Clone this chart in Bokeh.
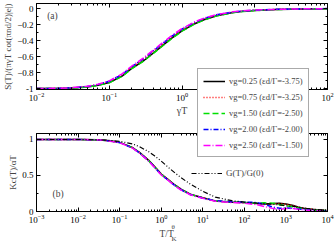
from bokeh.plotting import figure
from bokeh.layouts import column
from bokeh.models import (LogAxis, LinearAxis, FixedTicker, Legend, LegendItem,
                          Label, Range1d, CustomJSTickFormatter)
from bokeh.embed import file_html
from bokeh.resources import INLINE

FONT = "Liberation Serif"

# ---------------- data: panel (a) ----------------
gamma_T = [0.01, 0.02, 0.03, 0.05, 0.07, 0.1, 0.15, 0.2, 0.3, 0.5, 0.7, 1, 1.5, 2, 3, 5, 7, 10, 20, 50, 100]
s_vg025 = [-1.0, -1.0, -0.995, -0.98, -0.96, -0.925, -0.845, -0.755, -0.65, -0.49, -0.38, -0.28, -0.19, -0.14, -0.09, -0.05, -0.035, -0.025, -0.012, -0.005, -0.002]
s_vg075 = [-1.0, -0.999, -0.993, -0.976, -0.953, -0.915, -0.83, -0.74, -0.63, -0.47, -0.365, -0.265, -0.178, -0.13, -0.083, -0.046, -0.032, -0.022, -0.011, -0.004, -0.002]
s_vg150 = [-1.0, -1.0, -0.996, -0.981, -0.962, -0.928, -0.848, -0.758, -0.654, -0.494, -0.385, -0.284, -0.193, -0.143, -0.092, -0.052, -0.036, -0.026, -0.013, -0.005, -0.002]
s_vg200 = [-1.0, -0.999, -0.992, -0.974, -0.95, -0.91, -0.825, -0.733, -0.622, -0.462, -0.357, -0.258, -0.172, -0.125, -0.079, -0.044, -0.03, -0.021, -0.01, -0.004, -0.001]
s_vg250 = [-1.0, -0.998, -0.99, -0.971, -0.946, -0.905, -0.818, -0.725, -0.613, -0.452, -0.348, -0.25, -0.166, -0.12, -0.076, -0.042, -0.029, -0.02, -0.01, -0.004, -0.001]

# ---------------- data: panel (b) ----------------
T_TK = [0.001, 0.003, 0.01, 0.03, 0.05, 0.1, 0.2, 0.3, 0.5, 0.7, 1, 1.5, 2, 3, 5, 10, 20, 50, 100, 200,
        300, 500, 700, 1000, 1500, 2000, 3000, 5000, 10000]
k_vg025 = [1.0, 1.0, 1.0, 0.995, 0.985, 0.96, 0.89, 0.82, 0.71, 0.62, 0.52, 0.44, 0.38, 0.31, 0.24, 0.19, 0.145, 0.13, 0.125, 0.11,
           0.105, 0.11, 0.115, 0.105, 0.085, 0.06, 0.04, 0.025, 0.01]
k_vg075 = [1.0, 1.0, 1.0, 0.995, 0.985, 0.96, 0.89, 0.82, 0.71, 0.62, 0.52, 0.44, 0.38, 0.31, 0.24, 0.19, 0.145, 0.13, 0.122, 0.108,
           0.1, 0.105, 0.11, 0.1, 0.08, 0.06, 0.042, 0.026, 0.01]
k_vg150 = [1.0, 1.0, 1.0, 0.995, 0.984, 0.958, 0.887, 0.817, 0.706, 0.615, 0.515, 0.435, 0.375, 0.305, 0.237, 0.188, 0.148, 0.133, 0.125, 0.115,
           0.12, 0.115, 0.095, 0.08, 0.065, 0.05, 0.035, 0.022, 0.01]
k_vg200 = [1.0, 1.0, 1.0, 0.995, 0.984, 0.957, 0.885, 0.814, 0.703, 0.612, 0.512, 0.432, 0.372, 0.302, 0.235, 0.187, 0.15, 0.135, 0.13, 0.125,
           0.1, 0.06, 0.045, 0.05, 0.045, 0.035, 0.025, 0.015, 0.008]
k_vg250 = [1.0, 1.0, 1.0, 0.995, 0.983, 0.955, 0.882, 0.81, 0.698, 0.607, 0.507, 0.428, 0.368, 0.298, 0.232, 0.183, 0.143, 0.125, 0.115, 0.095,
           0.07, 0.04, 0.03, 0.04, 0.04, 0.03, 0.02, 0.012, 0.006]
g_ratio = [1.0, 1.0, 1.0, 0.995, 0.99, 0.975, 0.94, 0.9, 0.83, 0.77, 0.70, 0.61, 0.55, 0.47, 0.38, 0.28, 0.2, 0.15, 0.13, 0.115,
           0.108, 0.1, 0.092, 0.08, 0.07, 0.06, 0.045, 0.03, 0.015]

series_labels = ["vg=0.25 (εd/Γ=-3.75)", "vg=0.75 (εd/Γ=-3.25)", "vg=1.50 (εd/Γ=-2.50)",
                 "vg=2.00 (εd/Γ=-2.00)", "vg=2.50 (εd/Γ=-1.50)"]
g_label = "G(T)/G(0)"

top_y_ticks = [-1.0, -0.8, -0.6, -0.4, -0.2, 0.0]
top_y_minor = [-0.9, -0.7, -0.5, -0.3, -0.1]
bot_y_ticks = [0.0, 0.5, 1.0]
bot_y_minor = [0.25, 0.75]
top_x_ticks = [0.01, 0.1, 1, 10, 100]
bot_x_ticks = [0.001, 0.01, 0.1, 1, 10, 100, 1000, 10000]

styles = [
    dict(color="#000000", dash="solid"),
    dict(color="#ff0000", dash="1 2"),
    dict(color="#00e000", dash="6 3"),
    dict(color="#0000ff", dash="5 2 1 2"),
    dict(color="#ff00ff", dash="7 2 1 2"),
]


def log_minor(ticks):
    out = []
    for t in ticks[:-1]:
        out += [t * k for k in range(2, 10)]
    return out


def style_axis(ax, labels=True):
    ax.axis_line_color = "black"
    ax.major_tick_in = 4
    ax.major_tick_out = 0
    ax.minor_tick_in = 2
    ax.minor_tick_out = 0
    ax.major_tick_line_color = "black"
    ax.minor_tick_line_color = "black"
    ax.major_label_text_font = FONT
    ax.major_label_text_font_size = "9px" if labels else "1px"
    ax.major_label_text_color = "black"
    ax.major_label_standoff = 3 if labels else 0
    ax.axis_label_text_font = FONT
    ax.axis_label_text_font_size = "9px"
    ax.axis_label_text_font_style = "normal"
    ax.axis_label_standoff = 1
    if not labels:
        ax.formatter = CustomJSTickFormatter(code="return ''")


def bare(fig):
    fig.min_border_left = 0
    fig.min_border_right = 0
    fig.min_border_top = 0
    fig.min_border_bottom = 0
    fig.outline_line_color = None
    fig.background_fill_alpha = 0
    fig.border_fill_alpha = 0
    fig.grid.visible = False


W = 336
H1 = 118
H2 = 125
LEG_TOP, LEG_H = 68, 91
TITLE_TOP, TITLE_H = 221, 22
FRAME_SHIFT = 34   # overlay frames are aligned with the panels' frames (left border)

# ---------------- panel (a) ----------------
p1 = figure(width=W, height=H1, x_axis_type="log",
            x_range=Range1d(0.01, 100), y_range=Range1d(-1.0125, 0.0625),
            output_backend="svg", toolbar_location=None,
            min_border_left=32, min_border_right=9, min_border_top=3, min_border_bottom=29)
p1.grid.visible = False
p1.outline_line_color = "black"
p1.xaxis.ticker = FixedTicker(ticks=top_x_ticks, minor_ticks=log_minor(top_x_ticks))
p1.yaxis.ticker = FixedTicker(ticks=top_y_ticks, minor_ticks=top_y_minor)
p1.yaxis.major_label_overrides = {-1.0: "-1", 0.0: "0"}
p1.xaxis.axis_label = "γT"
p1.yaxis.axis_label = "S(T)/(πγT cot(πnd/2)|e|)"
style_axis(p1.xaxis[0])
style_axis(p1.yaxis[0])
p1.xaxis[0].axis_label_text_font_size = "10px"
ax_top = LogAxis(ticker=FixedTicker(ticks=top_x_ticks, minor_ticks=log_minor(top_x_ticks)))
ax_right = LinearAxis(ticker=FixedTicker(ticks=top_y_ticks, minor_ticks=top_y_minor))
style_axis(ax_top, labels=False)
style_axis(ax_right, labels=False)
p1.add_layout(ax_top, "above")
p1.add_layout(ax_right, "right")

for ys, st in zip([s_vg025, s_vg075, s_vg150, s_vg200, s_vg250], styles):
    p1.line(gamma_T, ys, line_color=st["color"], line_dash=st["dash"], line_width=1.5)

p1.add_layout(Label(x=0.014, y=-0.095, text="(a)", text_font=FONT, text_font_size="9.5px",
                    text_baseline="middle", text_align="left"))

# ---------------- panel (b) ----------------
p2 = figure(width=W, height=H2, x_axis_type="log",
            x_range=Range1d(0.001, 10000), y_range=Range1d(0, 1.083),
            output_backend="svg", toolbar_location=None,
            min_border_left=32, min_border_right=9, min_border_top=15, min_border_bottom=32)
p2.grid.visible = False
p2.outline_line_color = "black"
p2.xaxis.ticker = FixedTicker(ticks=bot_x_ticks, minor_ticks=log_minor(bot_x_ticks))
p2.yaxis.ticker = FixedTicker(ticks=bot_y_ticks, minor_ticks=bot_y_minor)
p2.yaxis.major_label_overrides = {0.0: "0", 1.0: "1"}
p2.yaxis.axis_label = "Kc(T)/αT"
style_axis(p2.xaxis[0])
style_axis(p2.yaxis[0])
bx_top = LogAxis(ticker=FixedTicker(ticks=bot_x_ticks, minor_ticks=log_minor(bot_x_ticks)))
bx_right = LinearAxis(ticker=FixedTicker(ticks=bot_y_ticks, minor_ticks=bot_y_minor))
style_axis(bx_top, labels=False)
style_axis(bx_right, labels=False)
p2.add_layout(bx_top, "above")
p2.add_layout(bx_right, "right")

for ys, st in zip([k_vg025, k_vg075, k_vg150, k_vg200, k_vg250], styles):
    p2.line(T_TK, ys, line_color=st["color"], line_dash=st["dash"], line_width=1.5)
rg = p2.line(T_TK, g_ratio, line_color="black", line_dash="5 2 1 2 1 2", line_width=1.2)

p2.add_layout(Label(x=0.00244, y=0.245, text="(b)", text_font=FONT, text_font_size="9.5px",
                    text_baseline="middle", text_align="left"))
legend_g = Legend(items=[LegendItem(label=g_label, renderers=[rg])],
                  location=(155, 32), label_text_font=FONT, label_text_font_size="9px",
                  glyph_width=31, glyph_height=12, label_height=12, padding=0, margin=0,
                  label_standoff=4, border_line_alpha=0, background_fill_alpha=0)
p2.add_layout(legend_g)

# ---------------- legend box spanning both panels (transparent overlay) ----------------
p_leg = figure(width=W, height=LEG_H, x_axis_type="log",
               x_range=Range1d(0.001, 10000), y_range=Range1d(10, 11),
               x_axis_location=None, y_axis_location=None,
               output_backend="svg", toolbar_location=None)
bare(p_leg)
p_leg.margin = (LEG_TOP - (H1 + H2), 0, 0, 0)
leg_renderers = []
for ys, st in zip([k_vg025, k_vg075, k_vg150, k_vg200, k_vg250], styles):
    leg_renderers.append(p_leg.line(T_TK, ys, line_color=st["color"], line_dash=st["dash"], line_width=1.5))
legend = Legend(items=[LegendItem(label=lab, renderers=[r]) for lab, r in zip(series_labels, leg_renderers)],
                location=(195 - FRAME_SHIFT, 2), label_text_font=FONT, label_text_font_size="8.5px",
                glyph_width=22, glyph_height=12, label_height=13, spacing=3, padding=5,
                label_standoff=4, margin=0, border_line_color="#555555", border_line_width=1.5,
                background_fill_color="white", background_fill_alpha=1.0)
p_leg.add_layout(legend)

# ---------------- x-axis title of panel (b): T/T_K^theta (transparent overlay) ----------------
p_title = figure(width=W, height=TITLE_H, x_range=Range1d(0, W), y_range=Range1d(0, TITLE_H),
                 x_axis_location=None, y_axis_location=None,
                 output_backend="svg", toolbar_location=None)
bare(p_title)
p_title.margin = (TITLE_TOP - (LEG_TOP + LEG_H), 0, 0, 0)
p_title.add_layout(Label(x=176 - FRAME_SHIFT, y=10, text="T/T", text_font=FONT, text_font_size="9.5px",
                         text_baseline="middle", text_align="left"))
p_title.add_layout(Label(x=190 - FRAME_SHIFT, y=5, text="K", text_font=FONT, text_font_size="7px",
                         text_baseline="middle", text_align="left"))
p_title.add_layout(Label(x=190 - FRAME_SHIFT, y=16.5, text="θ", text_font=FONT, text_font_size="7px",
                         text_baseline="middle", text_align="left"))

layout = column(p1, p2, p_leg, p_title, spacing=0)
open("out.html", "w").write(file_html(layout, INLINE))
